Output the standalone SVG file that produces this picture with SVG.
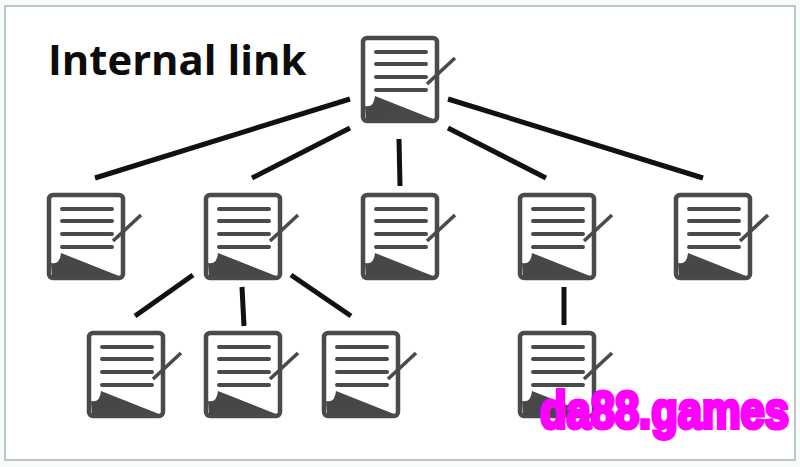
<svg xmlns="http://www.w3.org/2000/svg" width="800" height="467" viewBox="0 0 800 467">
<style>
.ln{stroke:#111;stroke-width:5;fill:none}
.o{fill:#fff;stroke:#4a4a4a;stroke-width:4.5}
.t{stroke:#4a4a4a;stroke-width:4;fill:none;stroke-linecap:round}
.p{stroke:#4a4a4a;stroke-width:3.6;fill:none}
.d{fill:#474747}
.title{font:bold 41.800px "Open Sans","Noto Sans",sans-serif;fill:#0c0c0c}
.wm{font:bold 43.500px "Liberation Sans",Arial,sans-serif;fill:#f0f;stroke:#f0f;stroke-width:3.4}
</style>
<defs>
<g id="doc">
<rect class="o" x="2" y="2" width="74" height="83" rx="4"/>
<path class="d" d="M4 70Q13 72 14 60L72 83L5 84Z"/>
<path class="t" d="M15 16H65M15 28H65M15 41H65M15 54H65"/>
<path class="p" d="M66 48L94 22"/>
</g>
</defs>
<rect width="800" height="467" fill="#f7fbfa"/>
<rect x="5" y="6" width="790" height="454" fill="#fff" stroke="#a9b6b4" stroke-width="1.5"/>
<text class="title" x="48" y="75">Internal link</text>
<g id="connectors">
<path class="ln" d="M350 99L95 178M350 128L252 178M399 139L400 186M448 128L546 178M448 99L703 178M193 275L135 316M242 287L244 326M291 275L351 316M564 287V325"/>
</g>
<g id="node-root"><use href="#doc" x="361" y="36"/></g>
<g id="node-a"><use href="#doc" x="47" y="193"/></g>
<g id="node-b"><use href="#doc" x="204" y="193"/></g>
<g id="node-c"><use href="#doc" x="361" y="193"/></g>
<g id="node-d"><use href="#doc" x="518" y="193"/></g>
<g id="node-e"><use href="#doc" x="674" y="193"/></g>
<g id="node-b1"><use href="#doc" x="87" y="331"/></g>
<g id="node-b2"><use href="#doc" x="204" y="331"/></g>
<g id="node-b3"><use href="#doc" x="322" y="331"/></g>
<g id="node-d1"><use href="#doc" x="518" y="331"/></g>
<text class="wm" transform="translate(540 428) scale(1 1.2)">da88.games</text>
</svg>
